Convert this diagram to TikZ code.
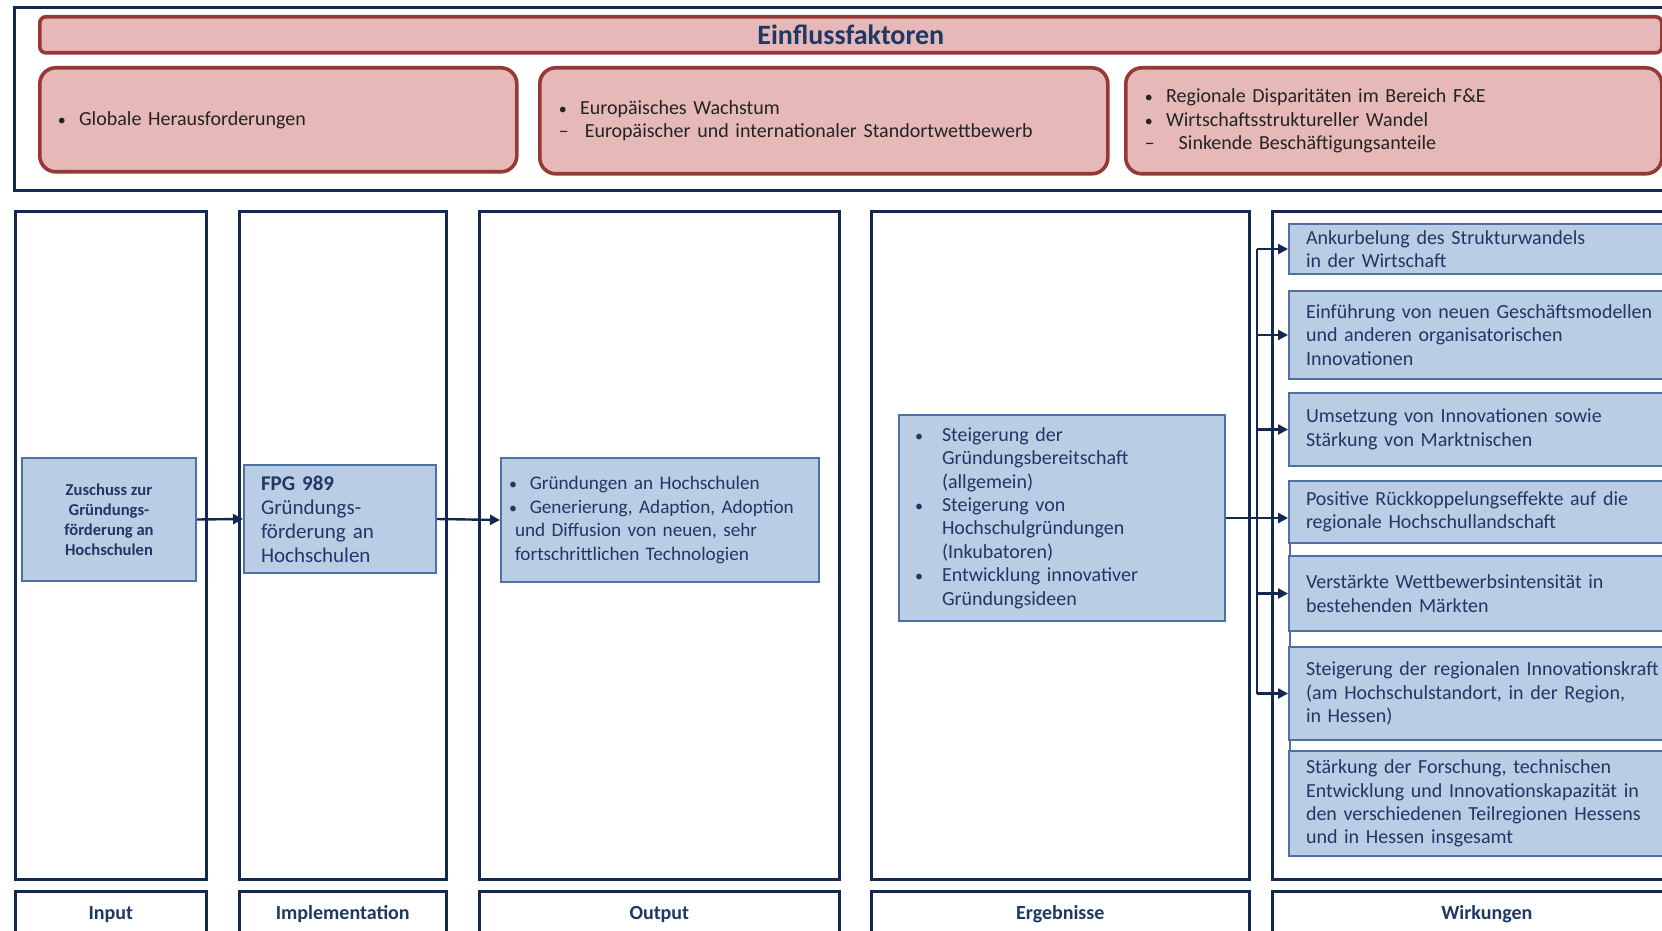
\documentclass[tikz,border=0pt]{standalone}
\usepackage{fontspec}
\setmainfont{Carlito}
\usetikzlibrary{arrows.meta}
\definecolor{pinkfill}{RGB}{230,185,184}
\definecolor{pinkdraw}{RGB}{150,56,54}
\definecolor{bluefill}{RGB}{185,205,229}
\definecolor{bluedraw}{RGB}{79,112,165}
\definecolor{navy}{RGB}{18,40,80}
\definecolor{textblue}{RGB}{31,56,100}
\definecolor{pinktext}{RGB}{35,35,35}
\newcommand{\smbul}{{\fontsize{8}{8}\selectfont\textbullet}}
\hyphenpenalty=10000
\exhyphenpenalty=10000
\begin{document}
\begin{tikzpicture}[x=0.5pt,y=-0.5pt,
  frame/.style={draw=navy, line width=1.3pt, fill=white, anchor=north west, inner sep=0pt},
  pinkbox/.style={draw=pinkdraw, fill=pinkfill, line width=1.8pt, rounded corners=8pt, anchor=north west, inner ysep=0pt, align=left, text=pinktext, font=\fontsize{10}{11.7}\selectfont},
  bluebox/.style={draw=bluedraw, fill=bluefill, line width=1pt, anchor=north west, inner ysep=0pt, text=textblue},
  lab/.style={frame, font=\bfseries\fontsize{10}{12}\selectfont, text=textblue},
  conn/.style={draw=navy, line width=1.2pt},
  arr/.style={conn, -{Triangle[length=5pt,width=5pt]}}]
\useasboundingbox (0,0) rectangle (1662,931);
\clip (0,0) rectangle (1662,931);
\fill[white] (0,0) rectangle (1662,931);

% ---- Einflussfaktoren
\node[frame, minimum width=843.5pt, minimum height=91.5pt] (top) at (13,6) {};
\node[pinkbox, rounded corners=3pt, minimum width=811pt, minimum height=18pt, align=center, text=textblue,
      font=\bfseries\fontsize{14}{16}\selectfont] (title) at (38,15) {Einflussfaktoren};
\node[pinkbox, minimum width=238.5pt, minimum height=52pt, inner xsep=9pt, text width=220.5pt] (e1) at (38,66)
  {\smbul\ \ Globale Herausforderungen};
\node[pinkbox, minimum width=284pt, minimum height=53pt, inner xsep=9.5pt, text width=265pt] (e2) at (538,66)
  {\smbul\ \ Europäisches Wachstum\\ –\hspace{0.8em}Europäischer und internationaler Standortwettbewerb};
\node[pinkbox, minimum width=268pt, minimum height=53pt, inner xsep=9.5pt, text width=249pt] (e3) at (1124,66)
  {\smbul\ \ Regionale Disparitäten im Bereich F\&E\\ \smbul\ \ Wirtschaftsstruktureller Wandel\\ –\hspace{1.2em}Sinkende Beschäftigungsanteile};

% ---- columns
\node[frame, minimum width=95.5pt, minimum height=334pt] (cin) at (14,210) {};
\node[frame, minimum width=103.5pt, minimum height=334pt] (cimp) at (238,210) {};
\node[frame, minimum width=180pt, minimum height=334pt] (cout) at (478,210) {};
\node[frame, minimum width=189pt, minimum height=334pt] (cerg) at (870,210) {};
\node[frame, minimum width=214.5pt, minimum height=334pt] (cwir) at (1271,210) {};

\node[lab, minimum width=95.5pt, minimum height=23pt] (lin) at (14,890) {Input};
\node[lab, minimum width=103.5pt, minimum height=23pt] (limp) at (238,890) {Implementation};
\node[lab, minimum width=180pt, minimum height=23pt] (lout) at (478,890) {Output};
\node[lab, minimum width=189pt, minimum height=23pt] (lerg) at (870,890) {Ergebnisse};
\node[lab, minimum width=214.5pt, minimum height=23pt] (lwir) at (1271,890) {Wirkungen};

% ---- inner boxes
\node[bluebox, minimum width=87pt, minimum height=61.5pt, align=center,
      font=\bfseries\fontsize{8.3}{10}\selectfont] (zu) at (21,457)
  {Zuschuss zur\\ Gründungs-\\ förderung an\\ Hochschulen};
\node[bluebox, minimum width=96pt, minimum height=54pt, inner xsep=8.5pt, text width=79pt, align=left,
      font=\fontsize{10.5}{12}\selectfont] (fpg) at (243,464)
  {\textbf{FPG 989}\\ Gründungs-\\ förderung an\\ Hochschulen};
\node[bluebox, minimum width=159pt, minimum height=62pt, inner xsep=7pt, text width=145pt, align=left,
      font=\fontsize{9.6}{11.7}\selectfont] (out) at (500,457)
  {\hspace*{-3pt}\smbul\ \ Gründungen an Hochschulen\\ \hspace*{-3pt}\smbul\ \ Generierung, Adaption, Adoption\\ und Diffusion von neuen, sehr\\ fortschrittlichen Technologien};
\node[bluebox, minimum width=163pt, minimum height=103pt, inner xsep=8pt, text width=147pt, align=left,
      font=\fontsize{10}{11.7}\selectfont] (erg) at (898,414)
  {\makebox[13.5pt][l]{\smbul}Steigerung der\\
   \hspace*{13.5pt}Gründungsbereitschaft\\
   \hspace*{13.5pt}(allgemein)\\
   \makebox[13.5pt][l]{\smbul}Steigerung von\\
   \hspace*{13.5pt}Hochschulgründungen\\
   \hspace*{13.5pt}(Inkubatoren)\\
   \makebox[13.5pt][l]{\smbul}Entwicklung innovativer\\
   \hspace*{13.5pt}Gründungsideen};

% ---- Wirkungen boxes
\draw[bluedraw, line width=0.6pt, fill=white] (1290,500) rectangle (1700,800);
\tikzset{wbox/.style={bluebox, minimum width=206pt, inner xsep=8.5pt, text width=189pt, align=left,
      font=\fontsize{10}{11.7}\selectfont}}
\node[wbox, minimum height=25pt] (w1) at (1288,223)
  {Ankurbelung des Strukturwandels\\ in der Wirtschaft};
\node[wbox, minimum height=44pt] (w2) at (1288,290)
  {Einführung von neuen Geschäftsmodellen\\ und anderen organisatorischen\\ Innovationen};
\node[wbox, minimum height=36.5pt] (w3) at (1288,392)
  {Umsetzung von Innovationen sowie\\ Stärkung von Marktnischen};
\node[wbox, minimum height=31pt] (w4) at (1288,480)
  {Positive Rückkoppelungseffekte auf die\\ regionale Hochschullandschaft};
\node[wbox, minimum height=37.5pt] (w5) at (1288,555)
  {Verstärkte Wettbewerbsintensität in\\ bestehenden Märkten};
\node[wbox, minimum height=46.5pt] (w6) at (1288,646)
  {Steigerung der regionalen Innovationskraft\\ (am Hochschulstandort, in der Region,\\ in Hessen)};
\node[wbox, minimum height=52.5pt] (w7) at (1288,750)
  {Stärkung der Forschung, technischen\\ Entwicklung und Innovationskapazität in\\ den verschiedenen Teilregionen Hessens\\ und in Hessen insgesamt};

% ---- connectors
\draw[arr] (zu.east) -- (fpg.west);
\draw[arr] (fpg.east) -- (out.west);
\draw[arr] (erg.east) -- (w4.west |- erg.east);
\coordinate (bt) at (1257,249);
\draw[conn] (bt |- w1.west) -- (bt |- w6.west);
\draw[arr] (bt |- w1.west) -- (w1.west);
\draw[arr] (bt |- w2.west) -- (w2.west);
\draw[arr] (bt |- w3.west) -- (w3.west);
\draw[arr] (bt |- w5.west) -- (w5.west);
\draw[arr] (bt |- w6.west) -- (w6.west);
\end{tikzpicture}
\end{document}
